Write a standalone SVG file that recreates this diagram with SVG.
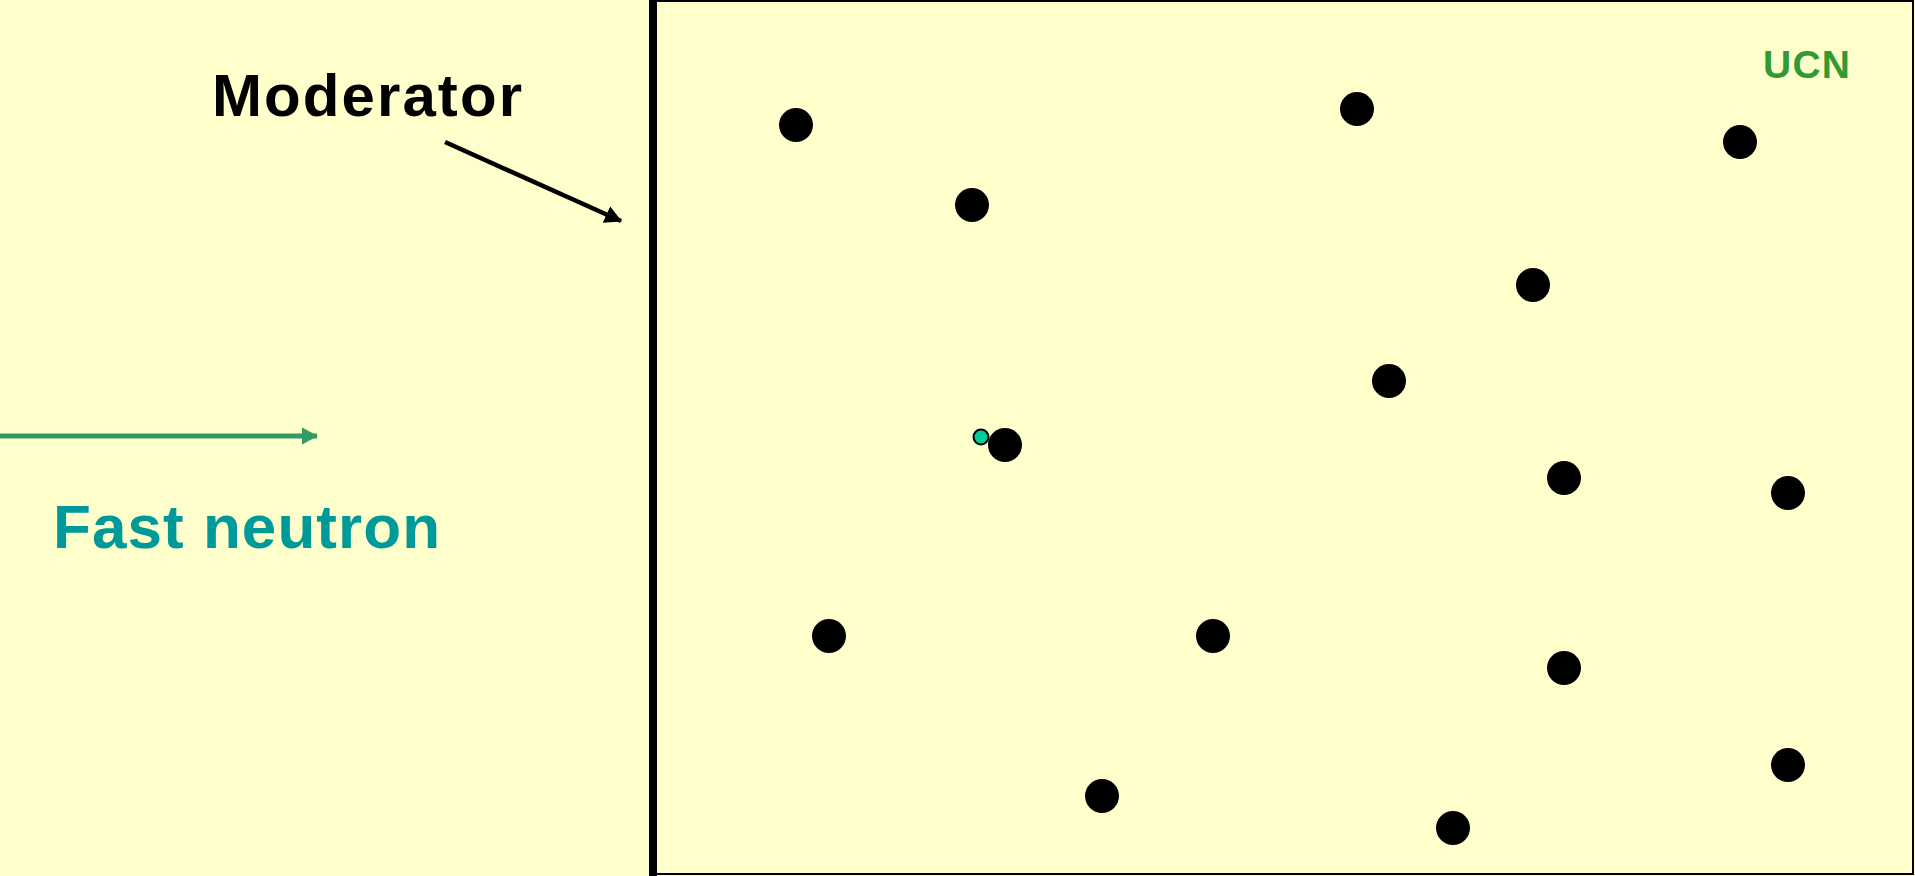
<svg xmlns="http://www.w3.org/2000/svg" width="1915" height="876" viewBox="0 0 1915 876">
<style>
.p{fill:#000}
.lbl{font-family:"Liberation Sans",Arial,sans-serif;font-weight:bold}
</style>
<defs>
<marker id="ab" markerUnits="userSpaceOnUse" markerWidth="18" markerHeight="20" refX="16" refY="9" orient="auto"><path d="M0,0 L17,9 L0,18 Z" fill="#000"/></marker>
<marker id="ag" markerUnits="userSpaceOnUse" markerWidth="17" markerHeight="18" refX="15" refY="9" orient="auto"><path d="M0,0.5 L16,9 L0,17.5 Z" fill="#339966"/></marker>
</defs>
<rect width="1915" height="876" fill="#FFFFCC"/>
<g id="moderator">
<rect x="650" y="1" width="1263" height="873" fill="#FFFFCC" stroke="#000" stroke-width="2"/>
<rect x="649" y="0" width="8" height="876" fill="#000"/>
</g>
<g id="labels">
<text class="lbl" x="212" y="116" font-size="60" fill="#000" textLength="310">Moderator</text>
<text class="lbl" x="53" y="548" font-size="62" fill="#009999" textLength="387">Fast neutron</text>
<text class="lbl" x="1763" y="78" font-size="39" fill="#339933" textLength="87">UCN</text>
</g>
<g id="connectors">
<line x1="445" y1="142" x2="621" y2="221" stroke="#000" stroke-width="4.5" marker-end="url(#ab)"/>
<line x1="0" y1="436" x2="317" y2="436" stroke="#339966" stroke-width="5" marker-end="url(#ag)"/>
</g>
<g id="nuclei">
<circle class="p" cx="796" cy="125" r="17"/>
<circle class="p" cx="1357" cy="109" r="17"/>
<circle class="p" cx="1740" cy="142" r="17"/>
<circle class="p" cx="972" cy="205" r="17"/>
<circle class="p" cx="1533" cy="285" r="17"/>
<circle class="p" cx="1389" cy="381" r="17"/>
<circle class="p" cx="1005" cy="445" r="17"/>
<circle class="p" cx="1564" cy="478" r="17"/>
<circle class="p" cx="1788" cy="493" r="17"/>
<circle class="p" cx="829" cy="636" r="17"/>
<circle class="p" cx="1213" cy="636" r="17"/>
<circle class="p" cx="1564" cy="668" r="17"/>
<circle class="p" cx="1788" cy="765" r="17"/>
<circle class="p" cx="1102" cy="796" r="17"/>
<circle class="p" cx="1453" cy="828" r="17"/>
</g>
<g id="neutron">
<circle cx="981" cy="437" r="7.5" fill="#00CC99" stroke="#000" stroke-width="2"/>
</g>
</svg>
